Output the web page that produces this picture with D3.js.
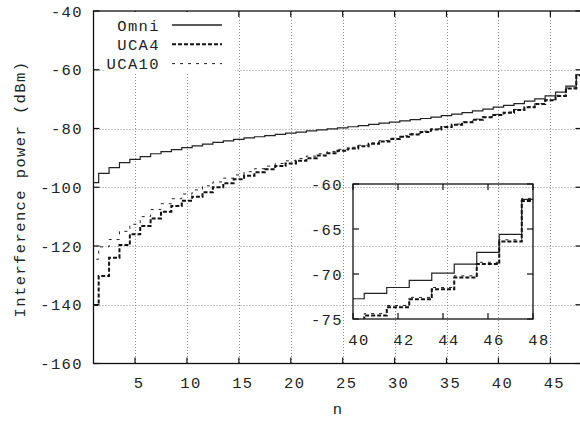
<!DOCTYPE html>
<html>
<head>
<meta charset="utf-8">
<script src="https://cdn.jsdelivr.net/npm/d3@7"></script>
<style>
  body { margin: 0; background: #fff; }
  text { font-family: "Liberation Mono", "DejaVu Sans Mono", monospace; font-size: 15.5px; letter-spacing: 1.4px; fill: #222; }
</style>
</head>
<body>
<svg width="580" height="422"></svg>
<script>
// sorted interference power per sample index n
const nValues = d3.range(1, 49);
const omni = [-98.4, -95.3, -93.3, -91.6, -90.5, -89.6, -88.6, -87.9, -87.2, -86.5,
  -85.9, -85.3, -84.7, -84.2, -83.7, -83.2, -82.8, -82.4, -82.0, -81.6,
  -81.2, -80.8, -80.5, -80.1, -79.8, -79.4, -79.0, -78.6, -78.2, -77.8,
  -77.4, -77.0, -76.6, -76.1, -75.6, -75.1, -74.6, -74.0, -73.4, -72.75,
  -72.15, -71.5, -70.7, -69.9, -68.9, -67.6, -65.6, -61.7];
const uca4 = [-140.1, -130.2, -124.0, -119.7, -116.0, -113.2, -110.6, -108.3, -106.4, -104.6,
  -103.2, -101.7, -100.0, -98.6, -97.3, -96.1, -94.9, -93.9, -92.8, -91.9,
  -91.0, -90.1, -89.2, -88.4, -87.6, -86.8, -86.0, -85.2, -84.4, -83.6,
  -82.8, -82.0, -81.2, -80.3, -79.5, -78.7, -77.9, -77.0, -76.2, -75.4,
  -74.6, -73.7, -72.8, -71.7, -70.4, -68.9, -66.4, -61.9];
const uca10 = [-124.5, -120.3, -117.8, -115.0, -112.6, -110.0, -107.6, -105.6, -103.9, -102.3,
  -100.9, -99.5, -98.2, -96.9, -95.8, -94.7, -93.7, -92.8, -91.9, -91.0,
  -90.2, -89.4, -88.6, -87.8, -87.1, -86.4, -85.7, -84.9, -84.1, -83.3,
  -82.5, -81.7, -80.9, -80.1, -79.3, -78.5, -77.7, -76.8, -76.0, -75.2,
  -74.4, -73.5, -72.6, -71.5, -70.2, -68.7, -66.2, -61.6];

const seriesNames = ["Omni", "UCA4", "UCA10"];
const xTicks = [5, 10, 15, 20, 25, 30, 35, 40, 45];
const yTicks = [-160, -140, -120, -100, -80, -60, -40];
const insetXTicks = [40, 42, 44, 46, 48];
const insetYTicks = [-75, -70, -65, -60];

const styles = {
  Omni:  {width: 1.2, dash: null, color: "#222"},
  UCA4:  {width: 2, dash: "4,2", color: "#111"},
  UCA10: {width: 1, dash: "3,5", color: "#222"}
};

const svg = d3.select("svg");

const x = d3.scaleLinear().domain([1, 48]).range([93.5, 581.5]);
const y = d3.scaleLinear().domain([-160, -40]).range([363.5, 11]);

const series = [omni, uca4, uca10].map((vals, i) => ({
  name: seriesNames[i],
  points: nValues.map((n, j) => ({n: n, v: vals[j]}))
}));

// gnuplot "histeps": each value holds from n-0.5 to n+0.5
function histeps(points) {
  let out = [];
  points.forEach(p => {
    out.push([p.n - 0.5, p.v]);
    out.push([p.n + 0.5, p.v]);
  });
  return out;
}

svg.append("clipPath").attr("id", "mainclip")
  .append("rect").attr("x", 93.5).attr("y", 11).attr("width", 488).attr("height", 352.5);

// grid
let grid = svg.append("g").attr("stroke", "#8a8a8a").attr("stroke-width", 1).attr("stroke-dasharray", "1,2");
grid.selectAll(".gx").data(xTicks).enter().append("line")
  .attr("x1", d => Math.round(x(d)) + 0.5).attr("x2", d => Math.round(x(d)) + 0.5)
  .attr("y1", y(-40)).attr("y2", y(-160));
grid.selectAll(".gy").data(yTicks.slice(1, -1)).enter().append("line")
  .attr("x1", x(1)).attr("x2", x(48))
  .attr("y1", d => Math.round(y(d)) + 0.5).attr("y2", d => Math.round(y(d)) + 0.5);

// curves
let line = d3.line().x(d => x(d[0])).y(d => y(d[1]));
let curves = svg.append("g").attr("clip-path", "url(#mainclip)");
series.forEach(s => {
  let st = styles[s.name];
  curves.append("path")
    .attr("d", line(histeps(s.points)))
    .attr("fill", "none")
    .attr("stroke", st.color)
    .attr("stroke-width", st.width)
    .attr("stroke-dasharray", st.dash);
});

// frame and ticks
svg.append("rect").attr("x", 93.5).attr("y", 11).attr("width", 488).attr("height", 352.5)
  .attr("fill", "none").attr("stroke", "#111").attr("stroke-width", 1.3);
let ticks = svg.append("g").attr("stroke", "#111").attr("stroke-width", 1.2);
xTicks.forEach(t => {
  ticks.append("line").attr("x1", x(t)).attr("x2", x(t)).attr("y1", y(-160)).attr("y2", y(-160) - 6);
  ticks.append("line").attr("x1", x(t)).attr("x2", x(t)).attr("y1", y(-40)).attr("y2", y(-40) + 6);
});
yTicks.forEach(t => {
  ticks.append("line").attr("x1", x(1)).attr("x2", x(1) + 6).attr("y1", y(t)).attr("y2", y(t));
  ticks.append("line").attr("x1", x(48)).attr("x2", x(48) - 6).attr("y1", y(t)).attr("y2", y(t));
});

svg.selectAll(".xl").data(xTicks).enter().append("text")
  .attr("x", d => x(d) + 4).attr("y", 388).attr("text-anchor", "middle").text(d => d);
svg.selectAll(".yl").data(yTicks).enter().append("text")
  .attr("x", 83).attr("y", d => y(d) + 5.5).attr("text-anchor", "end").text(d => d);

svg.append("text").attr("x", 338).attr("y", 414).attr("text-anchor", "middle").text("n");
svg.append("text").attr("transform", "translate(25,189) rotate(-90)")
  .attr("text-anchor", "middle").text("Interference power (dBm)");

// legend
let legend = svg.append("g");
legend.append("rect").attr("x", 105).attr("y", 12).attr("width", 130).attr("height", 60).attr("fill", "#fff");
seriesNames.forEach((name, i) => {
  let ly = 25 + i * 19.3;
  let st = styles[name];
  legend.append("text").attr("x", 160).attr("y", ly + 5.5).attr("text-anchor", "end").text(name);
  legend.append("line").attr("x1", 172).attr("x2", 222).attr("y1", ly).attr("y2", ly)
    .attr("stroke", st.color).attr("stroke-width", name == "Omni" ? 1.6 : st.width)
    .attr("stroke-dasharray", st.dash);
});

// inset zoom on n = 40..48
const xi = d3.scaleLinear().domain([40, 48]).range([353, 533]);
const yi = d3.scaleLinear().domain([-75, -60]).range([319, 184]);

svg.append("clipPath").attr("id", "insetclip")
  .append("rect").attr("x", 353).attr("y", 184).attr("width", 180).attr("height", 135);

let inset = svg.append("g");
let iline = d3.line().x(d => xi(d[0])).y(d => yi(d[1]));
let icurves = inset.append("g").attr("clip-path", "url(#insetclip)");
series.forEach(s => {
  let st = styles[s.name];
  icurves.append("path")
    .attr("d", iline(histeps(s.points.filter(p => p.n >= 38))))
    .attr("fill", "none")
    .attr("stroke", st.color)
    .attr("stroke-width", st.width)
    .attr("stroke-dasharray", st.dash);
});
inset.append("rect").attr("x", 353).attr("y", 184).attr("width", 180).attr("height", 135)
  .attr("fill", "none").attr("stroke", "#111").attr("stroke-width", 1.3);
insetXTicks.forEach(t => {
  inset.append("line").attr("x1", xi(t)).attr("x2", xi(t)).attr("y1", 319).attr("y2", 313).attr("stroke", "#111").attr("stroke-width", 1.2);
  inset.append("line").attr("x1", xi(t)).attr("x2", xi(t)).attr("y1", 184).attr("y2", 190).attr("stroke", "#111").attr("stroke-width", 1.2);
});
insetYTicks.forEach(t => {
  inset.append("line").attr("x1", 353).attr("x2", 359).attr("y1", yi(t)).attr("y2", yi(t)).attr("stroke", "#111").attr("stroke-width", 1.2);
  inset.append("line").attr("x1", 533).attr("x2", 527).attr("y1", yi(t)).attr("y2", yi(t)).attr("stroke", "#111").attr("stroke-width", 1.2);
});
inset.selectAll(".ixl").data(insetXTicks).enter().append("text")
  .attr("x", d => xi(d) + 6).attr("y", 345).attr("text-anchor", "middle").text(d => d);
inset.selectAll(".iyl").data(insetYTicks).enter().append("text")
  .attr("x", 343).attr("y", d => yi(d) + 5.5).attr("text-anchor", "end").text(d => d);
</script>
</body>
</html>
